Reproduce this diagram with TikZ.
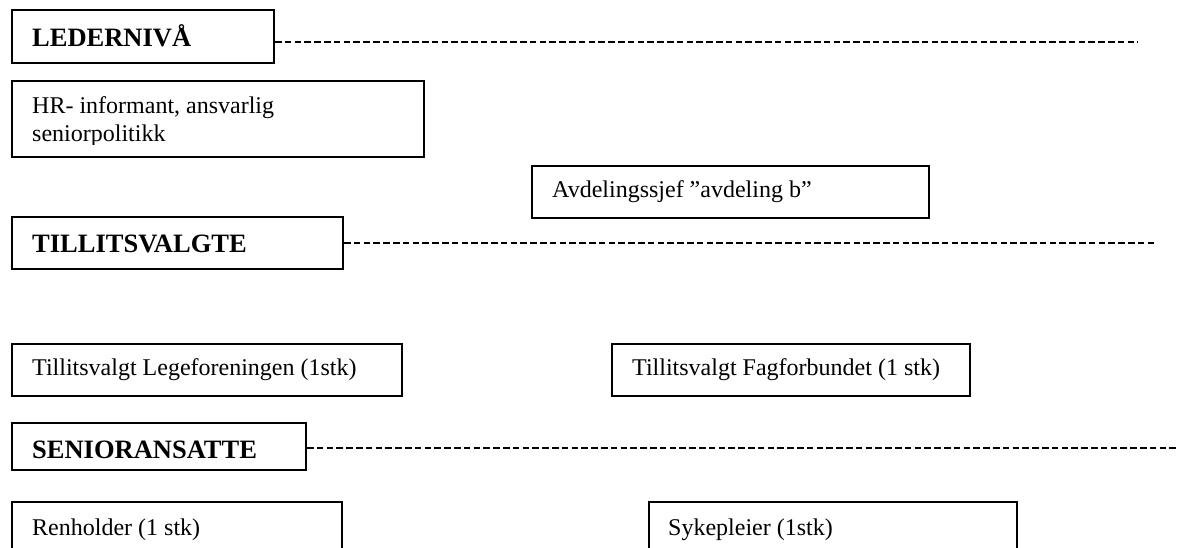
\documentclass[tikz,border=0pt]{standalone}
\usepackage{fontspec}
\setmainfont{Liberation Serif}
\begin{document}
\begin{tikzpicture}[x=1pt,y=-1pt,
  box/.style={draw, line width=2pt, inner sep=0pt, anchor=north west},
  txt/.style={inner sep=0pt, anchor=base west, font=\fontsize{24}{27}\selectfont},
  head/.style={inner sep=0pt, anchor=base west, font=\fontsize{26.5}{30}\selectfont\bfseries},
  guide/.style={line width=1.7pt, dash pattern=on 6.5pt off 3.3pt}]
\useasboundingbox (0,0) rectangle (1178,547);
\clip (0,0) rectangle (1178,547);
% LEDERNIVÅ
\node[box, minimum width=262pt, minimum height=53pt] (lev) at (11,9) {};
\node[head] (levt) at (32,46) {LEDERNIVÅ};
\coordinate (levend) at (1138,42);
\draw[guide] (lev.east |- levend) -- (levend);
% HR
\node[box, minimum width=412pt, minimum height=76pt] (hr) at (11,80) {};
\begin{scope}
\clip (11,80) rectangle (423,144);
\node[txt] (hrt1) at (32,113) {HR- informant, ansvarlig};
\node[txt] (hrt2) at (32,141) {seniorpolitikk};
\end{scope}
% Avdelingssjef
\node[box, minimum width=397pt, minimum height=52pt] (avd) at (531,165) {};
\node[txt] (avdt) at (552,197) {Avdelingssjef ”avdeling b”};
% TILLITSVALGTE
\node[box, minimum width=331pt, minimum height=52pt] (til) at (11,216) {};
\node[head] (tilt) at (32,252) {TILLITSVALGTE};
\coordinate (tilend) at (1156,243);
\draw[guide] (til.east |- tilend) -- (tilend);
% Legeforeningen
\node[box, minimum width=390pt, minimum height=52pt] (leg) at (11,343) {};
\node[txt] (legt) at (32,375) {Tillitsvalgt Legeforeningen (1stk)};
% Fagforbundet
\node[box, minimum width=358pt, minimum height=52pt] (fag) at (611,343) {};
\node[txt] (fagt) at (632,375) {Tillitsvalgt Fagforbundet (1 stk)};
% SENIORANSATTE
\node[box, minimum width=294pt, minimum height=47pt] (sen) at (11,422) {};
\node[head] (sent) at (32,458) {SENIORANSATTE};
\coordinate (senend) at (1185,448);
\draw[guide] (sen.east |- senend) -- (senend);
% Renholder
\node[box, minimum width=330pt, minimum height=70pt] (ren) at (11,501) {};
\node[txt] (rent) at (32,535) {Renholder (1 stk)};
% Sykepleier
\node[box, minimum width=368pt, minimum height=70pt] (syk) at (648,501) {};
\node[txt] (sykt) at (668,535) {Sykepleier (1stk)};
\end{tikzpicture}
\end{document}
